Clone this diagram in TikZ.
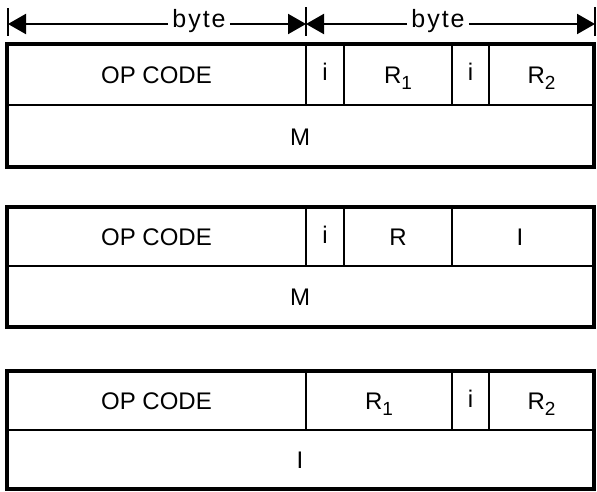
\documentclass[tikz,border=0pt]{standalone}
\usepackage{fontspec}
\setmainfont{Liberation Sans}
\usetikzlibrary{arrows.meta}
\newcommand{\subx}[1]{\raisebox{-6pt}{\fontsize{19}{19}\selectfont #1}}
\begin{document}
\begin{tikzpicture}[x=1pt,y=-1pt,
  outer/.style={line width=3.2pt},
  inner/.style={line width=2.4pt},
  lbl/.style={font=\fontsize{24}{24}\selectfont, inner sep=0pt, anchor=base},
  bytelbl/.style={font=\fontsize{25}{25}\selectfont, inner sep=4pt},
  dimline/.style={line width=2pt},
  tickline/.style={line width=2pt},
  head/.style={-{Triangle[length=18pt,width=20pt]}}
  ]
\useasboundingbox (0,0) rectangle (597,491);
% dimension arrows
\coordinate (t0) at (8,24);
\coordinate (t1) at (306,24);
\coordinate (t2) at (595,24);
\draw[tickline] (8,8) -- (8,36);
\draw[tickline] (306,7) -- (306,36);
\draw[tickline] (595,7) -- (595,36);
\node[bytelbl] (b1) at (199,21) {b\hspace{2pt}y\hspace{2pt}t\hspace{2pt}e};
\node[bytelbl] (b2) at (438,21) {b\hspace{2pt}y\hspace{2pt}t\hspace{2pt}e};
\draw[dimline,head] (b1.west |- t0) -- (t0);
\draw[dimline,head] (b1.east |- t0) -- (t1);
\draw[dimline,head] (b2.west |- t0) -- (t1);
\draw[dimline,head] (b2.east |- t0) -- (t2);

% format 1
\draw[inner] (7,105) -- (594,105);
\foreach \x in {306,344,452,489} \draw[inner] (\x,44) -- (\x,105);
\draw[outer] (7,44) rectangle (594,167);
\node[lbl] (op1) at (156.5,83) {OP CODE};
\node[lbl] (ia1) at (325,80) {i};
\node[lbl] (r11) at (398,83) {R\subx{1}};
\node[lbl] (ib1) at (470.5,80) {i};
\node[lbl] (r21) at (541.5,83) {R\subx{2}};
\node[lbl] (m1) at (300,145) {M};

% format 2
\draw[inner] (7,266) -- (594,266);
\foreach \x in {306,344,452} \draw[inner] (\x,207) -- (\x,266);
\draw[outer] (7,207) rectangle (594,327);
\node[lbl] (op2) at (156.5,245) {OP CODE};
\node[lbl] (ia2) at (325,243) {i};
\node[lbl] (r2) at (398,245) {R};
\node[lbl] (imm2) at (520,245) {I};
\node[lbl] (m2) at (300,305) {M};

% format 3
\draw[inner] (7,430) -- (594,430);
\foreach \x in {306,452,489} \draw[inner] (\x,371) -- (\x,430);
\draw[outer] (7,371) rectangle (594,489);
\node[lbl] (op3) at (156.5,409) {OP CODE};
\node[lbl] (r13) at (379,409) {R\subx{1}};
\node[lbl] (ib3) at (470.5,407) {i};
\node[lbl] (r23) at (541.5,409) {R\subx{2}};
\node[lbl] (imm3) at (300,468) {I};
\end{tikzpicture}
\end{document}
